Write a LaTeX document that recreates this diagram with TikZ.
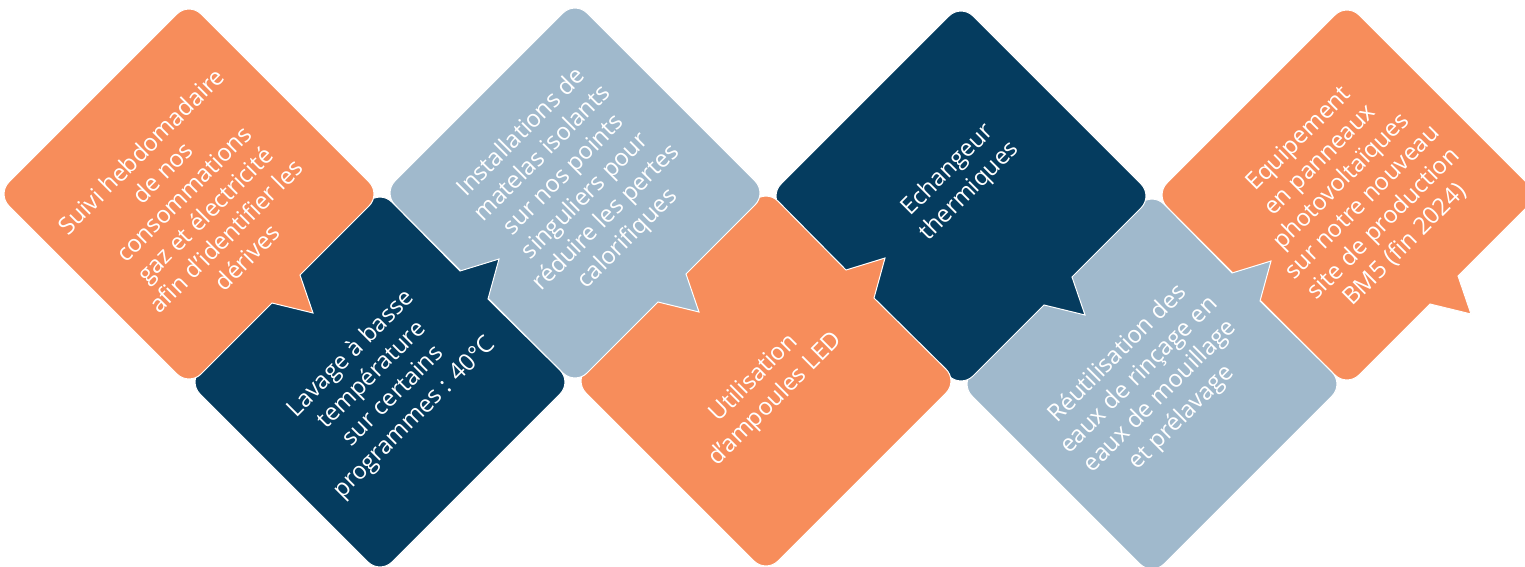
\documentclass[tikz,border=0pt]{standalone}
\usepackage{fontspec}
\setmainfont{Open Sans}
\definecolor{cOrange}{HTML}{F78D5B}
\definecolor{cNavy}{HTML}{053C5F}
\definecolor{cBlue}{HTML}{A0B9CC}
\tikzset{
  shapeline/.style={draw=white,line width=1pt,line join=miter},
  label/.style={text=white,align=center,rotate=45,font=\fontsize{24}{30}\selectfont,inner sep=0pt},
}
% lower-right tail
\newcommand{\calloutLow}[3]{%
  \fill[#3,shapeline,shift={(#1,#2)}] (-96,-96) [rounded corners=17pt] -- (0,-192) -- (192,0) [sharp corners] -- (111,81) -- (124,119) -- (83,109) [rounded corners=17pt] -- (0,192) -- (-192,0) -- cycle;}
% upper-right tail
\newcommand{\calloutUp}[3]{%
  \fill[#3,shapeline,shift={(#1,#2)}] (-96,-96) [rounded corners=17pt] -- (0,-192) [sharp corners] -- (80,-111) -- (119,-123) -- (108,-83) [rounded corners=17pt] -- (192,0) -- (0,192) -- (-192,0) -- cycle;}
\begin{document}
\begin{tikzpicture}[x=1pt,y=-1pt]
\useasboundingbox (0,0) rectangle (1525,567);
\fill[white] (0,0) rectangle (1525,567);
\clip (0,0) rectangle (1525,567);
\calloutLow{1347}{195}{cOrange}
\calloutUp{1152}{384}{cBlue}
\calloutLow{961}{196}{cNavy}
\calloutUp{766}{381}{cOrange}
\calloutLow{575}{193}{cBlue}
\calloutUp{380}{382}{cNavy}
\calloutLow{189}{194}{cOrange}
\node[label] (t1) at (194,204) {Suivi hebdomadaire\\de nos\\consommations\\gaz et électricité\\afin d'identifier les\\dérives};
\node[label] (t2) at (383,386) {Lavage à basse\\température\\sur certains\\programmes : 40°C};
\node[label] (t3) at (575,186) {Installations de\\matelas isolants\\sur nos points\\singuliers pour\\réduire les pertes\\calorifiques};
\node[label] (t4) at (765,389) {Utilisation\\d'ampoules LED};
\node[label] (t5) at (959,181) {Echangeur\\thermiques};
\node[label] (t6) at (1150,386) {Réutilisation des\\eaux de rinçage en\\eaux de mouillage\\et prélavage};
\node[label] (t7) at (1352,192) {Equipement\\en panneaux\\photovoltaïques\\sur notre nouveau\\site de production\\BM5 (fin 2024)};
\end{tikzpicture}
\end{document}
